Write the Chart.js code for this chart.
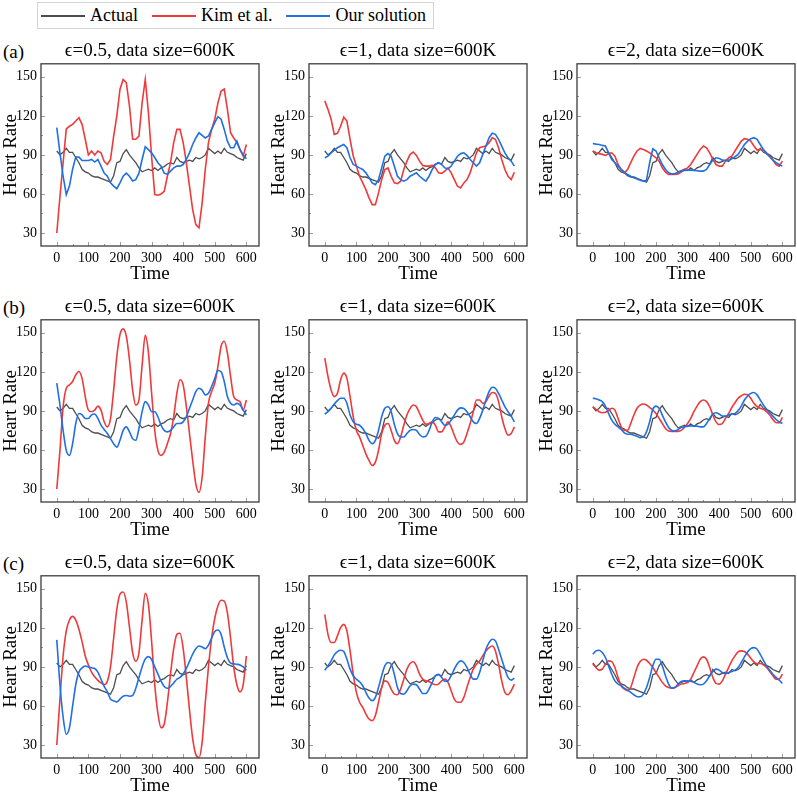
<!DOCTYPE html>
<html>
<head>
<meta charset="utf-8">
<script src="https://cdn.jsdelivr.net/npm/chart.js@4.4.1/dist/chart.umd.min.js"></script>
<style>
  html, body { margin: 0; padding: 0; background: #fff; }
  #fig { position: relative; width: 797px; height: 795px; overflow: hidden; font-family: 'Liberation Serif', 'Times New Roman', serif; color: #000; }
  #fig canvas { position: absolute; }
  .tag { position: absolute; left: 3px; font-size: 19px; line-height: 22px; }
  #legend { position: absolute; left: 37px; top: 2px; height: 27px; box-sizing: border-box; border: 1px solid #d4d4d4; display: flex; align-items: center; padding: 0 7px 0 3px; font-size: 18px; }
  .item { display: flex; align-items: center; margin-right: 14px; }
  .item:last-child { margin-right: 0; }
  .key { display: block; width: 44px; height: 2px; margin-right: 5px; }
</style>
</head>
<body>
<div id="fig">
  <div id="legend"></div>
</div>
<script>
document.addEventListener('DOMContentLoaded', () => {

    // --- DATOS ---
    const timeSteps = [0, 10, 20, 30, 40, 50, 60, 70, 80, 90, 100, 110, 120, 130, 140, 150, 160, 170, 180, 190,
        200, 210, 220, 230, 240, 250, 260, 270, 280, 290, 300, 310, 320, 330, 340, 350, 360, 370, 380, 390,
        400, 410, 420, 430, 440, 450, 460, 470, 480, 490, 500, 510, 520, 530, 540, 550, 560, 570, 580, 590, 600];
    const xTickValues = [0, 100, 200, 300, 400, 500, 600];
    const yTickValues = [30, 60, 90, 120, 150];
    const yMinorValues = [45, 75, 105, 135];
    const xMinorValues = [50, 150, 250, 350, 450, 550];

    const seriesNames = ['Actual', 'Kim et al.', 'Our solution'];
    const seriesColors = ['#4d4d4d', '#f0393a', '#1f6fe5'];
    const rowTags = ['(a)', '(b)', '(c)'];
    const epsValues = ['0.5', '1', '2'];
    const smoothRows = [false, true, true];

    const actualHR = [93, 90, 92, 95, 92, 92, 88, 84, 79, 77, 76, 74, 73, 73, 72, 71, 70, 69, 74, 84,
        85, 91, 94, 90, 87, 84, 80, 77, 78, 79, 78, 80, 78, 80, 81, 83, 84, 83, 88, 85,
        84, 85, 86, 85, 88, 87, 88, 90, 95, 93, 91, 93, 91, 95, 92, 91, 90, 88, 87, 86, 91];

    // fila (a)
    const kimA05 = [30, 58, 84, 110, 112, 113.5, 116, 118.6, 113.5, 102, 90, 93, 90, 93, 91.6, 85, 82.6, 86.5, 104.5, 120,
        140.5, 148, 145.6, 127.6, 102, 102, 104.5, 130, 148, 122.5, 89, 59.5, 59, 60, 62, 73.6, 84, 99.4, 109.6, 109.6,
        99.4, 84, 66, 48, 36.4, 34, 53, 79, 99.4, 109.6, 117.4, 130, 139, 140.5, 125, 107, 103, 99.4, 94, 89, 98];
    const oursA05 = [111, 91.6, 73.6, 59.5, 66, 79, 88.3, 88.3, 85.7, 85.7, 85.7, 86.5, 84.5, 86.5, 81.4, 76, 73.6, 68.5, 66, 64,
        68.5, 73.6, 76, 73.6, 70, 71, 76, 86.5, 96.3, 94, 91.6, 88, 84, 81.4, 76, 75, 77.5, 80, 81.4, 81.4,
        82.6, 86.5, 91.6, 98, 103, 107, 105, 103, 104.5, 109.6, 114.8, 119.4, 117.4, 109.6, 100.6, 95.5, 95.5, 100.6, 94, 90, 87];
    const kimA1 = [131.5, 125, 117.4, 105.8, 106.6, 112, 119, 116, 102, 89.2, 81.4, 73.6, 68.5, 63.3, 57, 51.8, 51.8, 60.8, 71, 78.8,
        80, 73.6, 68.5, 68, 69.8, 78.8, 85.2, 90.4, 92.2, 89.6, 85.2, 81.9, 81.4, 81.4, 81.9, 80, 76.2, 75.7, 77.5, 80,
        76.2, 71, 65.9, 64.6, 68.5, 71, 76.2, 84, 91.6, 95.5, 96.3, 96.8, 99.4, 103.2, 102, 95.5, 86.5, 78.8, 73.6, 71, 76.7];
    const oursA1 = [87.8, 89, 91.6, 93.7, 95.5, 96.8, 98, 95.5, 87.8, 82.6, 81.4, 80, 78.8, 76.2, 72.4, 68.5, 67.2, 71, 80, 89,
        91, 89, 81.4, 73.6, 71, 69.8, 71, 73.6, 74.9, 76.2, 73.6, 71.5, 69.8, 73.6, 78.8, 82.6, 84, 82.6, 80, 79.3,
        81.4, 85.2, 89, 91, 91.6, 89.6, 86.5, 84, 81.4, 84, 90.4, 96.8, 103.2, 106.6, 105.8, 102, 96.8, 91.6, 87.8, 85.2, 81.4];
    const kimA2 = [93, 91.6, 91, 90.4, 89.6, 91, 91.6, 89, 82.6, 78.8, 76.2, 78.8, 84, 89, 93, 95, 94.2, 93, 91.6, 89.6,
        87.8, 85.2, 80, 76.7, 74.9, 74.9, 74.9, 75.4, 76.7, 78.8, 80, 82.6, 86.5, 90.4, 94.2, 96.8, 95.5, 91.6, 86.5, 82.6,
        81.4, 81.4, 85.2, 87.8, 89, 93, 96.8, 100.6, 102.5, 102, 100.6, 96.8, 93.7, 94.2, 93.7, 91.6, 89, 86, 82.6, 81.4, 85.2];
    const oursA2 = [98.8, 98.3, 98, 97.3, 96.8, 91.6, 86.5, 84, 81.4, 78.8, 76.7, 74.9, 73.6, 72.4, 71.5, 70.6, 69.8, 70.6, 84, 94.7,
        93, 87.8, 82.6, 78.8, 76.2, 75.4, 75.7, 76.7, 77.5, 78, 78.3, 78.3, 78, 77.8, 77.5, 77.5, 78.8, 82.6, 86, 87.8,
        87.3, 86, 85.7, 86, 87, 88.6, 90.4, 94.2, 98, 100.6, 102.5, 103.2, 102, 98, 94.2, 91, 88.6, 86, 84, 82.6, 81.4];

    // fila (b)
    const kimB05 = [30, 59.7, 93, 107.4, 110, 112.6, 117.7, 120.3, 115, 101, 90.6, 89.4, 90.6, 93.7, 90.6, 81.6, 77.7, 84, 106, 132,
        148.7, 153, 147.4, 129.4, 106, 94.5, 98.3, 125, 148, 135, 104, 75, 59.7, 55.8, 58.4, 64.8, 72.6, 85.5, 103.5, 113.9,
        110, 93.2, 72.6, 52, 34, 27.4, 39, 70, 95.8, 104.8, 111.3, 124.2, 139.7, 143.5, 134.5, 116.5, 101, 98.4, 97, 90.6, 98.3];
    const oursB05 = [111.3, 94.5, 75, 59.7, 55.8, 64.8, 80.3, 88, 87, 84.2, 84.2, 87, 87.6, 84.2, 79, 75.7, 72.6, 68.7, 64.8, 62.2,
        67.4, 75, 77.7, 73.9, 68.7, 67.4, 76.5, 89.4, 97.1, 94.5, 89.4, 89.4, 85.5, 79, 75, 73.9, 75, 77.7, 80.3, 80.3,
        81.6, 85.5, 92, 98.4, 104.8, 107.4, 106, 102.3, 103.5, 108.7, 115, 121, 120, 112.6, 101, 95.8, 94.5, 95.8, 94.5, 90.6, 86.8];
    const kimB1 = [130.6, 116.5, 106, 101, 103.5, 113.9, 119, 115, 101, 85.5, 75, 70, 63.5, 57, 51.9, 48, 50.6, 59.7, 72.6, 79,
        80.3, 75, 67.4, 64.8, 70, 79, 86.8, 91.9, 94.5, 93.2, 88, 82.9, 79.8, 80.3, 81.6, 79, 73.9, 73.9, 77.7, 81.6,
        77.7, 71.3, 66, 64.3, 66, 72.6, 80.3, 89.4, 98.4, 98.4, 95.8, 97.1, 101.5, 104.1, 103.5, 97.1, 85.5, 76.5, 71.3, 72.6, 77.7];
    const oursB1 = [87.6, 89.4, 92, 95.3, 97.9, 99.7, 99.7, 95.8, 86.8, 81.6, 79.8, 79, 76.5, 72.6, 67.4, 64.8, 67.4, 75, 85.5, 92,
        93.2, 89.4, 79.8, 72.6, 70, 70, 72.6, 75, 75.7, 75, 71.9, 70, 70.5, 75, 81.6, 84.9, 84.2, 81.6, 79, 79.8,
        82.9, 86.8, 90.6, 92.3, 91.9, 89.4, 85.5, 81.6, 80.3, 84.2, 90.6, 98.4, 104.8, 108.2, 107.4, 103.5, 98.4, 93.2, 89.4, 86, 81.6];
    const kimB2 = [93.2, 91.2, 89.4, 88.6, 88.9, 90.2, 92, 90.6, 84.2, 77.7, 75, 75, 80.3, 86.8, 92, 94.5, 95.3, 94.5, 92.6, 90.6,
        88, 84.2, 80.3, 76.5, 74.6, 74.3, 74.3, 74.3, 75, 77.2, 80.3, 84.2, 89.4, 93.7, 97.1, 98.4, 97.1, 93.2, 86.8, 81.6,
        79.5, 80.3, 84.2, 88, 92.6, 96.3, 99.7, 101.5, 102.8, 102.3, 99.7, 95.8, 93.2, 92, 91.2, 89.4, 86.8, 83.4, 80.9, 80.9, 85];
    const oursB2 = [99.7, 99.4, 98.4, 97.1, 93.7, 88, 82.9, 79.8, 77.7, 75.7, 73.1, 72.1, 72.1, 71.3, 70.5, 69.5, 70, 73.9, 81.6, 91.2,
        93.7, 92, 86.8, 81.6, 77.2, 75, 74.6, 75.7, 77.2, 77.7, 78.3, 78.5, 78.3, 78.3, 77.7, 77.7, 80.3, 84.2, 87.6, 88.6,
        87.6, 86, 86, 86.8, 87.6, 88, 90.2, 93.7, 98.4, 101.5, 103.5, 104.1, 102.3, 98.4, 94.5, 91.2, 88.6, 86, 83.4, 81.6, 80.3];

    // fila (c)
    const kimC05 = [30, 65.3, 98.4, 117.7, 126, 128.8, 126, 119, 109.4, 98.4, 91.5, 86, 82.4, 79.7, 77.7, 76.3, 79, 90, 112.2, 134.3,
        146, 147.5, 139.8, 120.5, 101, 94.3, 101, 126, 146.5, 138, 110, 76.3, 54.3, 43.2, 46, 62.5, 84.6, 104, 115, 115.8,
        104, 81.9, 57, 35, 22.6, 20.3, 32.2, 62.5, 90, 112.2, 127.4, 137, 141.2, 140.6, 131.5, 112.2, 90, 76.3, 70.8, 76.3, 98.4];
    const oursC05 = [110.8, 76.3, 51.5, 38.3, 43.2, 59.8, 76.3, 86, 89.3, 90.7, 90, 89.3, 88.8, 86, 80.5, 75, 70.8, 65.3, 64, 63.1,
        65.3, 67.5, 68, 67.5, 68, 73.6, 81.9, 90, 96.2, 97.9, 95.7, 90, 84.6, 79, 75, 73.6, 75, 77.7, 80.5, 81.9,
        84.6, 88.8, 94.3, 99.8, 104, 106.1, 105.3, 104, 106.7, 112.2, 117.2, 118.3, 115, 105.3, 97, 92.9, 92.3, 92, 91.5, 90, 87.4];
    const kimC1 = [130.4, 115, 108.7, 108.7, 113.8, 120.2, 122.7, 117.6, 102.3, 84.4, 70.4, 62.8, 58.9, 53.8, 50, 48.7, 52.6, 62.8, 74.2, 79.3,
        78.1, 73, 69.1, 68.6, 73, 80.6, 88.3, 92.6, 93.9, 90.8, 84.4, 80.6, 79.3, 78.6, 77.3, 76.3, 76.8, 79.3, 80.6, 78.1,
        71.7, 65.3, 62.8, 62.8, 66.6, 74.2, 81.9, 88.3, 92.1, 94.6, 98.5, 102.3, 104.8, 106.1, 102.3, 92.1, 79.3, 70.4, 68.6, 71.7, 76.8];
    const oursC1 = [87.5, 90.8, 94.6, 99.2, 101.8, 102.8, 101.8, 95.9, 88.3, 83.2, 80.6, 78.6, 75.5, 70.4, 66.1, 64, 66.6, 74.2, 83.2, 90.8,
        93.4, 92.1, 84.4, 74.2, 69.6, 69.1, 71.7, 75.5, 76.8, 76.3, 73, 69.6, 69.6, 73, 78.1, 83.2, 84.4, 81.9, 78.9, 79.3,
        83.2, 88.3, 92.6, 94.6, 93.4, 89.5, 84.4, 80.6, 80.6, 85.7, 94.6, 103.6, 108.7, 111.2, 110, 103.6, 95.9, 88.3, 81.9, 79.8, 81.4];
    const kimC2 = [92.1, 89.5, 87.5, 88.3, 92.1, 94.6, 94.1, 89.5, 81.9, 75.5, 73, 71.7, 74.2, 81.9, 89.5, 94.1, 95.9, 95.1, 92.6, 89.5,
        85.7, 81.9, 78.1, 75.5, 74.2, 73.7, 74.2, 75.5, 76.8, 77.3, 78.1, 80.6, 85.7, 90.8, 95.9, 97.7, 95.9, 89.5, 81.9, 77.3,
        76.8, 79.3, 84.4, 89.5, 94.6, 98.5, 101.5, 102.3, 101.8, 99.8, 96.7, 93.9, 92.6, 92.6, 91.6, 89.5, 86.5, 83.2, 80.6, 80.6, 84.4];
    const oursC2 = [99.7, 102.3, 102.8, 101, 97.2, 90.8, 84.4, 79.3, 76.8, 75.5, 73.7, 72.2, 70.4, 68.6, 67.1, 67.1, 69.1, 74.2, 81.9, 90.8,
        95.9, 95.9, 90.8, 83.2, 76.8, 73.7, 74.2, 76.8, 78.9, 79.3, 79.3, 78.9, 78.1, 76.8, 76.3, 76.8, 79.3, 83.2, 86.5, 88.3,
        87.5, 85.7, 84.9, 85.7, 86.5, 87.5, 89.5, 93.4, 97.7, 101.5, 104.1, 104.8, 103.6, 99.7, 95.1, 90.8, 87.5, 84.4, 81.9, 79.8, 77.3];

    const kimRows = [[kimA05, kimA1, kimA2], [kimB05, kimB1, kimB2], [kimC05, kimC1, kimC2]];
    const oursRows = [[oursA05, oursA1, oursA2], [oursB05, oursB1, oursB2], [oursC05, oursC1, oursC2]];

    // --- MAQUETA ---
    const SERIF = "'Liberation Serif', 'Times New Roman', serif";
    const COL_LEFT = [0, 268, 536];
    const BOX_TOP = [64, 320, 576];
    const Y_AXIS_W = 41;
    const X_AXIS_H = 39;
    const BOX_H = 182;
    const TITLE_PAD = { top: 5, bottom: 1 };
    const TITLE_H = TITLE_PAD.top + 19 * 1.2 + TITLE_PAD.bottom;
    const CANVAS_W = 261;
    const CANVAS_H = Math.round(TITLE_H + BOX_H + X_AXIS_H);

    Chart.defaults.font.family = SERIF;
    Chart.defaults.color = '#000';
    const fnt = (size) => ({ family: SERIF, size, weight: 'normal', lineHeight: 1.2 });

    const fig = document.getElementById('fig');

    // leyenda (colores vía CSSOM)
    const legend = document.getElementById('legend');
    seriesNames.forEach((name, i) => {
        const it = document.createElement('div');
        it.className = 'item';
        const key = document.createElement('span');
        key.className = 'key';
        key.style.backgroundColor = seriesColors[i];
        const txt = document.createElement('span');
        txt.textContent = name;
        it.appendChild(key);
        it.appendChild(txt);
        legend.appendChild(it);
    });

    // marco + marcas internas
    const framePlugin = {
        id: 'frame',
        afterDraw(chart) {
            const { ctx, chartArea: a, scales: { x, y } } = chart;
            ctx.save();
            ctx.strokeStyle = '#9a9a9a';
            ctx.lineWidth = 1;
            const tickY = (vals, len) => vals.forEach(v => {
                const py = Math.round(y.getPixelForValue(v)) + 0.5;
                ctx.beginPath(); ctx.moveTo(a.left, py); ctx.lineTo(a.left + len, py); ctx.stroke();
            });
            const tickX = (vals, len) => vals.forEach(v => {
                const px = Math.round(x.getPixelForValue(v)) + 0.5;
                ctx.beginPath(); ctx.moveTo(px, a.bottom); ctx.lineTo(px, a.bottom - len); ctx.stroke();
            });
            tickY(yTickValues, 4); tickY(yMinorValues, 2);
            tickX(xTickValues, 4); tickX(xMinorValues, 2);
            ctx.strokeStyle = '#3c3c3c';
            ctx.lineWidth = 1.3;
            ctx.strokeRect(a.left, a.top, a.right - a.left, a.bottom - a.top);
            ctx.restore();
        }
    };

    const toPoints = vals => timeSteps.map((t, i) => ({ x: t, y: vals[i] }));

    for (let r = 0; r < 3; r++) {
        const tag = document.createElement('div');
        tag.className = 'tag';
        tag.textContent = rowTags[r];
        tag.style.top = (BOX_TOP[r] - 12.5 - 11) + 'px';
        fig.appendChild(tag);

        for (let c = 0; c < 3; c++) {
            const cv = document.createElement('canvas');
            cv.width = CANVAS_W;
            cv.height = CANVAS_H;
            cv.style.left = COL_LEFT[c] + 'px';
            cv.style.top = (BOX_TOP[r] - TITLE_H) + 'px';
            fig.appendChild(cv);

            const curve = smoothRows[r] ? { tension: 0.4, cubicInterpolationMode: 'monotone' } : { tension: 0 };
            new Chart(cv, {
                type: 'line',
                data: {
                    datasets: [
                        { label: seriesNames[0], data: toPoints(actualHR), borderColor: seriesColors[0], borderWidth: 1.3, order: 2, tension: 0 },
                        { label: seriesNames[1], data: toPoints(kimRows[r][c]), borderColor: seriesColors[1], order: 1, ...curve },
                        { label: seriesNames[2], data: toPoints(oursRows[r][c]), borderColor: seriesColors[2], order: 0, ...curve }
                    ]
                },
                options: {
                    responsive: false,
                    animation: false,
                    devicePixelRatio: 1,
                    events: [],
                    layout: { padding: { left: 0, right: 2, top: 0, bottom: 0 } },
                    elements: { point: { radius: 0 }, line: { borderWidth: 1.6, fill: false } },
                    plugins: {
                        legend: { display: false },
                        tooltip: { enabled: false },
                        title: {
                            display: true,
                            text: `ϵ=${epsValues[c]}, data size=600K`,
                            fullSize: false,
                            font: fnt(19),
                            padding: TITLE_PAD,
                            color: '#000'
                        }
                    },
                    scales: {
                        x: {
                            type: 'linear',
                            min: -50, max: 640,
                            grid: { display: false, drawTicks: false },
                            border: { display: false },
                            ticks: { font: fnt(14), color: '#000', padding: 4, maxRotation: 0 },
                            afterBuildTicks: s => { s.ticks = xTickValues.map(v => ({ value: v })); },
                            afterFit: s => { s.height = X_AXIS_H; },
                            title: { display: true, text: 'Time', font: fnt(19), color: '#000', padding: 0 }
                        },
                        y: {
                            min: 20, max: 160,
                            grid: { display: false, drawTicks: false },
                            border: { display: false },
                            ticks: { font: fnt(14), color: '#000', padding: 4 },
                            afterBuildTicks: s => { s.ticks = yTickValues.map(v => ({ value: v })); },
                            afterFit: s => { s.width = Y_AXIS_W; },
                            title: { display: true, text: 'Heart Rate', font: fnt(19), color: '#000', padding: 0 }
                        }
                    }
                },
                plugins: [framePlugin]
            });
        }
    }
});
</script>
</body>
</html>
